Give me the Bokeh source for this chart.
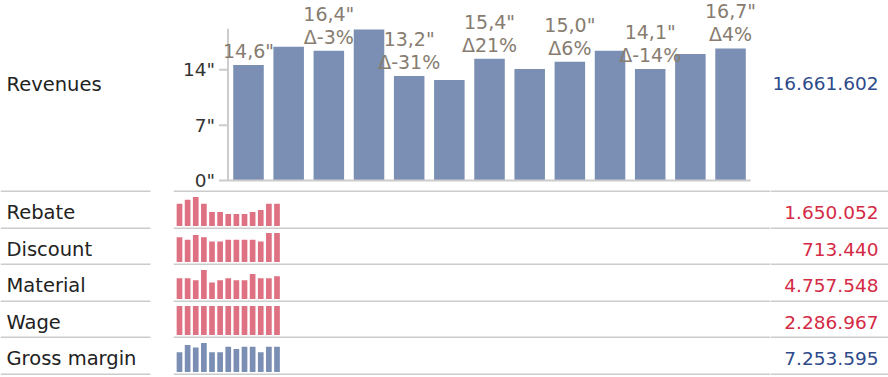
from bokeh.plotting import figure
from bokeh.layouts import column, row
from bokeh.models import Range1d, ColumnDataSource, Span
from bokeh.core.properties import value
from bokeh.embed import file_html
from bokeh.resources import INLINE

# ---------------- data ----------------
periods = list(range(1, 14))
revenues = [14.6, 16.9, 16.4, 19.1, 13.2, 12.7, 15.4, 14.1, 15.0, 16.4, 14.1, 16.0, 16.7]
y_ticks = [0, 7, 14]
y_tick_labels = ['0"', '7"', '14"']

row_names = ["Rebate", "Discount", "Material", "Wage", "Gross margin"]
rebate = [154, 182, 201, 154, 97, 97, 83, 83, 83, 97, 111, 154, 154]
discount = [57.5, 51.7, 62.4, 57.5, 47.6, 47.6, 51.7, 51.7, 51.7, 51.7, 47.6, 67.3, 67.3]
material = [363, 363, 327, 508, 291, 327, 363, 327, 327, 436, 363, 363, 400]
wage = [175.9] * 13
gross_margin = [465, 637, 577, 682, 465, 465, 592, 540, 592, 592, 465, 592, 592]
row_values = [rebate, discount, material, wage, gross_margin]

revenue_total = 16661602
row_totals = [1650052, 713440, 4757548, 2286967, 7253595]
row_is_cost = [True, True, True, True, False]

# ---------------- style ----------------
FONT = value("DejaVu Sans")
BLUE = "#7a8fb3"
RED = "#df7282"
BLUE_TXT = "#2d4a8a"
RED_TXT = "#d42a45"
LABEL_TXT = "#222222"
BAR_LBL = "#877c70"
GRID = "#cccccc"

LABEL_W, CONTENT_W, TOTAL_W = 173, 597, 118
TOP_H = 192
ROW_HS = [37, 36, 37, 36, 37]


def base_fig(w, h, xr, yr):
    p = figure(width=w, height=h, x_range=xr, y_range=yr, output_backend="svg",
               toolbar_location=None, tools="", x_axis_location=None,
               y_axis_location=None, min_border=0)
    p.min_border_left = p.min_border_right = p.min_border_top = p.min_border_bottom = 0
    p.grid.visible = False
    p.outline_line_color = None
    return p


def label_fig(text, h, text_y):
    p = base_fig(LABEL_W, h, Range1d(0, LABEL_W), Range1d(0, h))
    p.text(x=[6], y=[text_y], text=[text], text_font=FONT, text_font_size=value("19.5px"),
           text_color=LABEL_TXT, text_align="left", text_baseline="middle")
    p.segment(x0=[0], y0=[1], x1=[150], y1=[1], line_color=GRID, line_width=2)
    return p


def total_fig(total, h, text_y, color):
    p = base_fig(TOTAL_W, h, Range1d(0, TOTAL_W), Range1d(0, h))
    txt = f"{total:,}".replace(",", ".")
    p.text(x=[TOTAL_W - 10], y=[text_y], text=[txt], text_font=FONT,
           text_font_size=value("18.5px"), text_color=color,
           text_align="right", text_baseline="middle")
    p.add_layout(Span(location=1, dimension="width", line_color=GRID, line_width=2))
    return p


# ---------------- revenue chart ----------------
PX_X = 40.17          # px per period
X0 = 1 - 75 / PX_X    # first bar centre 75px right of panel edge
PX_Y = 7.91           # px per unit
BASE = 12             # baseline height above panel bottom
AXIS_X = 0.49
AXIS_TOP = 19.2
X_END = 13.5

rev = base_fig(CONTENT_W, TOP_H, Range1d(X0, X0 + CONTENT_W / PX_X),
               Range1d(-BASE / PX_Y, (TOP_H - BASE) / PX_Y))
src = ColumnDataSource(dict(period=periods, rev=revenues))
rev.vbar(x="period", top="rev", width=0.76, source=src, fill_color=BLUE, line_color=None)

# axis & baseline
rev.segment(x0=[AXIS_X], y0=[0], x1=[X_END], y1=[0], line_color=GRID, line_width=2)
rev.segment(x0=[AXIS_X], y0=[0], x1=[AXIS_X], y1=[AXIS_TOP], line_color=GRID, line_width=2)
rev.segment(x0=[AXIS_X - 9 / PX_X] * len(y_ticks), y0=y_ticks, x1=[AXIS_X] * len(y_ticks),
            y1=y_ticks, line_color=GRID, line_width=2)
rev.text(x=[AXIS_X] * len(y_ticks), y=y_ticks, text=y_tick_labels, x_offset=-13,
         text_font=FONT, text_font_size=value("18.5px"), text_color="#333333",
         text_align="right", text_baseline="middle")

# bar labels on every other bar
lx, ly, l_low, l_high, hx, hy = [], [], [], [], [], []
for i in range(0, len(revenues), 2):
    v = revenues[i]
    vtxt = f"{v:.1f}".replace(".", ",") + '"'
    if i == 0:
        lx.append(periods[i]); ly.append(v); l_low.append(vtxt)
    else:
        d = round((v / revenues[i - 1] - 1) * 100)
        lx.append(periods[i]); ly.append(v); l_low.append(f"\u0394{d}%")
        hx.append(periods[i]); hy.append(v); l_high.append(vtxt)
rev.text(x=lx, y=ly, text=l_low, y_offset=-14, text_font=FONT,
         text_font_size=value("19px"), text_color=BAR_LBL,
         text_align="center", text_baseline="alphabetic")
rev.text(x=hx, y=hy, text=l_high, y_offset=-37, text_font=FONT,
         text_font_size=value("19px"), text_color=BAR_LBL,
         text_align="center", text_baseline="alphabetic")
rev.add_layout(Span(location=-BASE / PX_Y + 1 / PX_Y, dimension="width", line_color=GRID, line_width=2))

rows = [row(label_fig("Revenues", TOP_H, 108), rev,
            total_fig(revenue_total, TOP_H, 109, BLUE_TXT))]

# ---------------- sparkline rows ----------------
SPX = 8.125
SX0 = 1 - 6 / SPX
SP_BASE = 3.5
SP_H = 29
for name, vals, tot, cost, h in zip(row_names, row_values, row_totals, row_is_cost, ROW_HS):
    mx = max(vals)
    upp = mx / SP_H  # units per px
    sp = base_fig(CONTENT_W, h, Range1d(SX0, SX0 + CONTENT_W / SPX),
                  Range1d(-SP_BASE * upp, (h - SP_BASE) * upp))
    s = ColumnDataSource(dict(period=periods, v=vals))
    col = RED if cost else BLUE
    sp.vbar(x="period", top="v", width=0.7, source=s, fill_color=col, line_color=None)
    sp.add_layout(Span(location=(-SP_BASE + 1) * upp, dimension="width", line_color=GRID, line_width=2))
    rows.append(row(label_fig(name, h, h - 19.5), sp,
                    total_fig(tot, h, h - 19.5, RED_TXT if cost else BLUE_TXT)))

layout = column(*rows)
open("out.html", "w").write(file_html(layout, INLINE))
